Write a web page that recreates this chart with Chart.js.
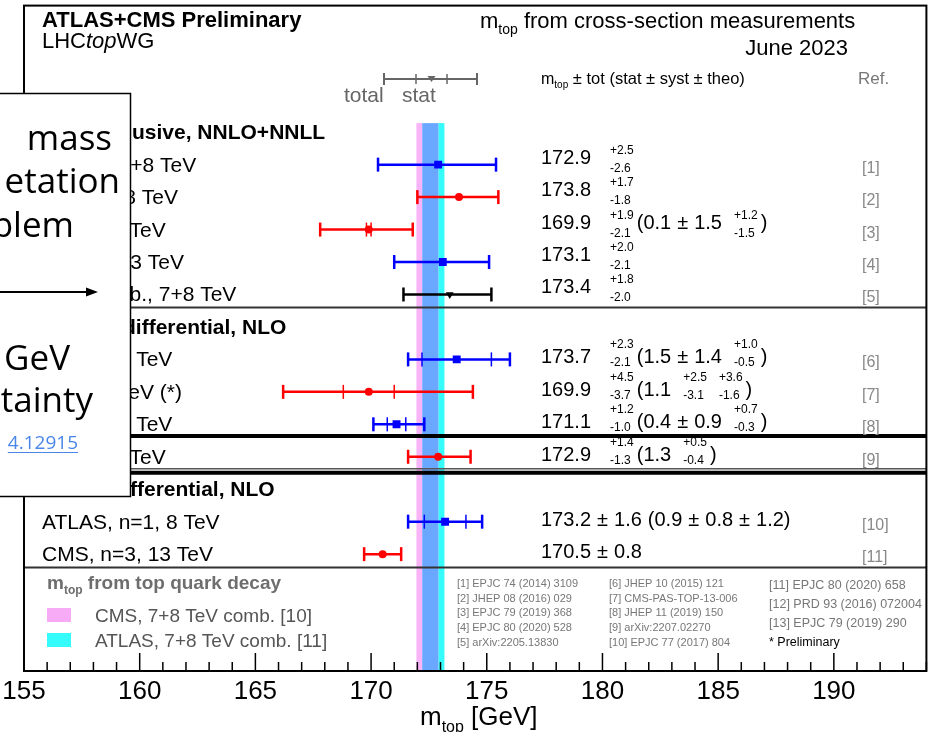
<!DOCTYPE html>
<html>
<head>
<meta charset="utf-8">
<title>m_top from cross-section measurements</title>
<script src="https://cdn.jsdelivr.net/npm/chart.js@4.4.1/dist/chart.umd.min.js"></script>
<style>
  html, body { margin: 0; padding: 0; background: #fff; }
  canvas { display: block; }
</style>
</head>
<body>
<canvas id="mtopChart" width="932" height="732"></canvas>
<script>
// measurements, top to bottom
const rowLabels = ['ATLAS, 7+8 TeV', 'CMS, 7+8 TeV', 'CMS, 13 TeV', 'ATLAS, 13 TeV', 'LHC comb., 7+8 TeV',
    'ATLAS, 7 TeV', 'CMS, 8 TeV (*)', 'ATLAS, 8 TeV', 'CMS, 13 TeV',
    'ATLAS, n=1, 8 TeV', 'CMS, n=3, 13 TeV'];
const experiment = ['ATLAS', 'CMS', 'CMS', 'ATLAS', 'LHC', 'ATLAS', 'CMS', 'ATLAS', 'CMS', 'ATLAS', 'CMS'];
const rowSlot = [0, 1, 2, 3, 4, 6, 7, 8, 9, 11, 12];
const mtop = [172.9, 173.8, 169.9, 173.1, 173.4, 173.7, 169.9, 171.1, 172.9, 173.2, 170.5];
const totUp = [2.5, 1.7, 1.9, 2.0, 1.8, 2.3, 4.5, 1.2, 1.4, 1.6, 0.8];
const totDn = [2.6, 1.8, 2.1, 2.1, 2.0, 2.1, 3.7, 1.0, 1.3, 1.6, 0.8];
const stat = [null, null, 0.1, null, null, 1.5, 1.1, 0.4, 1.3, 0.9, null];
const systUp = [null, null, 1.5, null, null, 1.4, 2.5, 0.9, null, 0.8, null];
const systDn = [null, null, 1.5, null, null, 1.4, 3.1, 0.9, null, 0.8, null];
const theoUp = [null, null, 1.2, null, null, 1.0, 3.6, 0.7, 0.5, 1.2, null];
const theoDn = [null, null, 1.5, null, null, 0.5, 1.6, 0.3, 0.4, 1.2, null];
const refs = ['[1]', '[2]', '[3]', '[4]', '[5]', '[6]', '[7]', '[8]', '[9]', '[10]', '[11]'];

const sectionTitles = ['σtt\u0304 inclusive, NNLO+NNLL', 'σtt\u0304+1jet differential, NLO', 'σtt\u0304 differential, NLO'];
const sectionSlots = [-1, 5, 10];

// top quark decay combinations (bands)
const combLabels = ['CMS, 7+8 TeV comb. [10]', 'ATLAS, 7+8 TeV comb. [11]'];
const combCentral = [172.44, 172.69];
const combErr = [0.48, 0.48];

const xTicks = [155, 160, 165, 170, 175, 180, 185, 190];

const refCol1 = ['[1] EPJC 74 (2014) 3109', '[2] JHEP 08 (2016) 029', '[3] EPJC 79 (2019) 368', '[4] EPJC 80 (2020) 528', '[5] arXiv:2205.13830'];
const refCol2 = ['[6] JHEP 10 (2015) 121', '[7] CMS-PAS-TOP-13-006', '[8] JHEP 11 (2019) 150', '[9] arXiv:2207.02270', '[10] EPJC 77 (2017) 804'];
const refCol3 = ['[11] EPJC 80 (2020) 658', '[12] PRD 93 (2016) 072004', '[13] EPJC 79 (2019) 290'];

const FONT = '"Liberation Sans", Arial, Helvetica, sans-serif';
const SLIDE_FONT = '"Open Sans", "Noto Sans", sans-serif';
const colours = { ATLAS: '#0000ff', CMS: '#ff0000', LHC: '#000000' };
const styles = { ATLAS: ['rect', 5.6, 0], CMS: ['circle', 4, 0], LHC: ['triangle', 4.5, 180] };

const f1 = v => v.toFixed(1);

function text(ctx, s, x, y, font, colour, align) {
    ctx.font = font;
    ctx.fillStyle = colour || '#000';
    ctx.textAlign = align || 'left';
    ctx.textBaseline = 'alphabetic';
    ctx.fillText(s, x, y);
    return x + ctx.measureText(s).width;
}

function line(ctx, x0, y0, x1, y1) {
    ctx.beginPath();
    ctx.moveTo(x0, y0);
    ctx.lineTo(x1, y1);
    ctx.stroke();
}

// "m" with a "top" subscript, returns x after it
function mTop(ctx, x, y, size, colour, bold) {
    const w = bold ? 'bold ' : '';
    x = text(ctx, 'm', x, y, w + size + 'px ' + FONT, colour);
    return text(ctx, 'top', x, y + size * 0.28, w + Math.round(size * 0.62) + 'px ' + FONT, colour);
}

function valueText(ctx, i, py) {
    const base = rowSlot[i] < 5 ? py - 1 : py + 4;
    const big = '20px ' + FONT, small = '12px ' + FONT;
    let x = 541;
    let lastSup = false;
    const put = s => { x = text(ctx, s, x, base, big, '#000'); lastSup = false; };
    const pm = v => { x += 6; put('±'); x += 6; put(f1(v)); };
    const upDn = (up, dn) => {
        x += 12;
        const e1 = text(ctx, '+' + f1(up), x, py - 11, small, '#000');
        const e2 = text(ctx, '-' + f1(dn), x, py + 7, small, '#000');
        x = Math.max(e1, e2);
        lastSup = true;
    };
    const err = (up, dn) => (up === dn ? pm(up) : upDn(up, dn));

    put(f1(mtop[i]));
    if (totUp[i] === totDn[i]) pm(totUp[i]);
    else { x += 7; upDn(totUp[i], totDn[i]); }
    if (stat[i] != null) {
        x += lastSup ? 3 : 6;
        put('(' + f1(stat[i]));
        if (systUp[i] != null) err(systUp[i], systDn[i]);
        if (theoUp[i] != null) err(theoUp[i], theoDn[i]);
        x += lastSup ? 3 : 0;
        put(')');
    }
}

const summaryPlugin = {
    id: 'mtopSummary',
    beforeDraw(chart) {
        const ctx = chart.ctx;
        ctx.save();
        ctx.fillStyle = '#fff';
        ctx.fillRect(0, 0, chart.width, chart.height);
        ctx.restore();
    },
    beforeDatasetsDraw(chart) {
        const { ctx, chartArea: a, scales: { x, y } } = chart;
        ctx.save();

        // bands from the decay combinations
        const bTop = y.getPixelForValue(-1.28);
        const cLo = x.getPixelForValue(combCentral[0] - combErr[0]);
        const cHi = x.getPixelForValue(combCentral[0] + combErr[0]);
        const aLo = x.getPixelForValue(combCentral[1] - combErr[1]);
        const aHi = x.getPixelForValue(combCentral[1] + combErr[1]);
        ctx.fillStyle = '#f8b4f6';
        ctx.fillRect(cLo, bTop, aLo - cLo, a.bottom - bTop);
        ctx.fillStyle = '#6aa8ff';
        ctx.fillRect(aLo, bTop, cHi - aLo, a.bottom - bTop);
        ctx.fillStyle = '#36fbfb';
        ctx.fillRect(cHi, bTop, aHi - cHi, a.bottom - bTop);

        // error bars
        mtop.forEach((m, i) => {
            const py = y.getPixelForValue(rowSlot[i]);
            const x0 = x.getPixelForValue(m - totDn[i]);
            const x1 = x.getPixelForValue(m + totUp[i]);
            ctx.strokeStyle = colours[experiment[i]];
            ctx.lineWidth = 2.5;
            line(ctx, x0, py, x1, py);
            line(ctx, x0, py - 7, x0, py + 7);
            line(ctx, x1, py - 7, x1, py + 7);
            if (stat[i] != null && systUp[i] != null) {
                ctx.lineWidth = 1.5;
                [m - stat[i], m + stat[i]].forEach(v => {
                    const px = x.getPixelForValue(v);
                    line(ctx, px, py - 7, px, py + 7);
                });
            }
        });
        ctx.restore();
    },
    afterDraw(chart) {
        const { ctx, chartArea: a, scales: { x, y } } = chart;
        ctx.save();

        // separators
        ctx.strokeStyle = '#333';
        ctx.lineWidth = 2;
        [4.4, 12.41].forEach(s => line(ctx, a.left, y.getPixelForValue(s), a.right, y.getPixelForValue(s)));
        ctx.strokeStyle = '#555';
        ctx.lineWidth = 1.5;
        line(ctx, a.left, y.getPixelForValue(9.37), a.right, y.getPixelForValue(9.37));
        ctx.strokeStyle = '#000';
        ctx.lineWidth = 4;
        [8.36, 9.49].forEach(s => line(ctx, a.left, y.getPixelForValue(s), a.right, y.getPixelForValue(s)));

        // header
        text(ctx, 'ATLAS+CMS Preliminary', 42, 27, 'bold 22px ' + FONT, '#000');
        let hx = text(ctx, 'LHC', 42, 48, '22px ' + FONT, '#000');
        hx = text(ctx, 'top', hx, 48, 'italic 22px ' + FONT, '#000');
        text(ctx, 'WG', hx, 48, '22px ' + FONT, '#000');
        let tx = mTop(ctx, 480, 28, 22, '#000');
        text(ctx, ' from cross-section measurements', tx, 28, '22px ' + FONT, '#000');
        text(ctx, 'June 2023', 848, 55, '22px ' + FONT, '#000', 'right');

        // total / stat key
        ctx.strokeStyle = '#666';
        ctx.fillStyle = '#666';
        ctx.lineWidth = 2;
        line(ctx, 384, 79, 477, 79);
        line(ctx, 384, 73, 384, 85);
        line(ctx, 477, 73, 477, 85);
        ctx.lineWidth = 1.5;
        line(ctx, 416, 74, 416, 84);
        line(ctx, 447, 74, 447, 84);
        ctx.beginPath();
        ctx.moveTo(427.5, 76); ctx.lineTo(435.5, 76); ctx.lineTo(431.5, 82); ctx.closePath();
        ctx.fill();
        text(ctx, 'total', 344, 102, '21px ' + FONT, '#666');
        text(ctx, 'stat', 402, 102, '21px ' + FONT, '#666');
        tx = mTop(ctx, 541, 84, 16, '#000');
        text(ctx, ' ± tot (stat ± syst ± theo)', tx, 84, '16.5px ' + FONT, '#000');
        text(ctx, 'Ref.', 858, 84, '17px ' + FONT, '#777');

        // section titles
        const bold = 'bold 21px ' + FONT;
        const visible = ['usive', 'differential', 'fferential'];
        const anchor = [132, 123, 130];
        sectionTitles.forEach((t, k) => {
            const py = y.getPixelForValue(sectionSlots[k]) + 7;
            const cut = t.indexOf(visible[k]);
            text(ctx, t.slice(0, cut), anchor[k], py, bold, '#000', 'right');
            text(ctx, t.slice(cut), anchor[k], py, bold, '#000', 'left');
        });

        // rows
        rowLabels.forEach((lab, i) => {
            const py = y.getPixelForValue(rowSlot[i]);
            text(ctx, lab, 42, py + 7, '21px ' + FONT, '#000');
            valueText(ctx, i, py);
            text(ctx, refs[i], 862, py + 8, '16px ' + FONT, '#888');
        });

        // decay legend
        tx = mTop(ctx, 47, 589, 19, '#6e6e6e', true);
        text(ctx, ' from top quark decay', tx, 589, 'bold 19px ' + FONT, '#6e6e6e');
        ctx.fillStyle = '#f7aaf5';
        ctx.fillRect(47, 608, 24, 14);
        ctx.fillStyle = '#36fbfb';
        ctx.fillRect(47, 633, 24, 14);
        text(ctx, combLabels[0], 95, 622, '19px ' + FONT, '#555');
        text(ctx, combLabels[1], 95, 647, '19px ' + FONT, '#555');

        // references
        refCol1.forEach((r, k) => text(ctx, r, 457, 587 + k * 14.7, '11px ' + FONT, '#777'));
        refCol2.forEach((r, k) => text(ctx, r, 609, 587 + k * 14.7, '11px ' + FONT, '#777'));
        refCol3.forEach((r, k) => text(ctx, r, 769, 588.5 + k * 19, '12.5px ' + FONT, '#777'));
        text(ctx, '* Preliminary', 769, 645.5, '12.5px ' + FONT, '#000');

        // axis ticks pointing into the frame
        ctx.strokeStyle = '#000';
        ctx.lineWidth = 1.5;
        for (let v = x.min; v <= x.max; v++) {
            const px = x.getPixelForValue(v);
            line(ctx, px, a.bottom, px, a.bottom - (v % 5 === 0 ? 18 : 9));
        }
        xTicks.forEach(v => text(ctx, String(v), x.getPixelForValue(v), 699, '26px ' + FONT, '#000', 'center'));
        tx = mTop(ctx, 420, 725, 26, '#000');
        text(ctx, ' [GeV]', tx, 725, '26px ' + FONT, '#000');

        // frame
        ctx.lineWidth = 2;
        ctx.strokeRect(a.left, a.top, a.right - a.left, a.bottom - a.top);

        // slide box laid over the plot
        ctx.fillStyle = '#fff';
        ctx.fillRect(-2, 93.5, 132.5, 403);
        ctx.strokeStyle = '#000';
        ctx.lineWidth = 1.5;
        ctx.strokeRect(-2, 93.5, 132.5, 403);
        const big = '35px ' + SLIDE_FONT;
        text(ctx, 'mass', 112, 150, big, '#000', 'right');
        text(ctx, 'etation', 120, 193, big, '#000', 'right');
        text(ctx, 'blem', 74, 237, big, '#000', 'right');
        ctx.lineWidth = 2;
        line(ctx, 0, 292, 88, 292);
        ctx.fillStyle = '#000';
        ctx.beginPath();
        ctx.moveTo(98, 292); ctx.lineTo(86, 287.5); ctx.lineTo(86, 296.5); ctx.closePath();
        ctx.fill();
        text(ctx, 'GeV', 70, 370, big, '#000', 'right');
        text(ctx, 'tainty', 93, 412, big, '#000', 'right');
        const lx = text(ctx, '4.12915', 78, 449, '19px ' + SLIDE_FONT, '#4a86e8', 'right');
        ctx.strokeStyle = '#4a86e8';
        ctx.lineWidth = 1;
        ctx.font = '19px ' + SLIDE_FONT;
        line(ctx, 78 - ctx.measureText('4.12915').width, 452.5, 78, 452.5);

        ctx.restore();
    }
};

const groups = ['ATLAS', 'CMS', 'LHC'];
const datasets = groups.map(g => ({
    label: g,
    data: mtop.map((m, i) => ({ x: m, y: rowSlot[i] })).filter((p, i) => experiment[i] === g),
    backgroundColor: colours[g],
    borderColor: colours[g],
    borderWidth: 0,
    pointStyle: styles[g][0],
    pointRadius: styles[g][1],
    rotation: styles[g][2],
}));

const ctx = document.getElementById('mtopChart');
new Chart(ctx, {
    type: 'scatter',
    data: { datasets: datasets },
    options: {
        responsive: false,
        animation: false,
        layout: { padding: { left: 24, top: 3, right: 1, bottom: 61 } },
        plugins: {
            legend: { display: false },
            tooltip: { enabled: false },
        },
        scales: {
            x: { type: 'linear', min: 155, max: 194, display: false },
            y: { type: 'linear', min: -4.9, max: 15.6, reverse: true, display: false },
        },
    },
    plugins: [summaryPlugin],
});
</script>
</body>
</html>
